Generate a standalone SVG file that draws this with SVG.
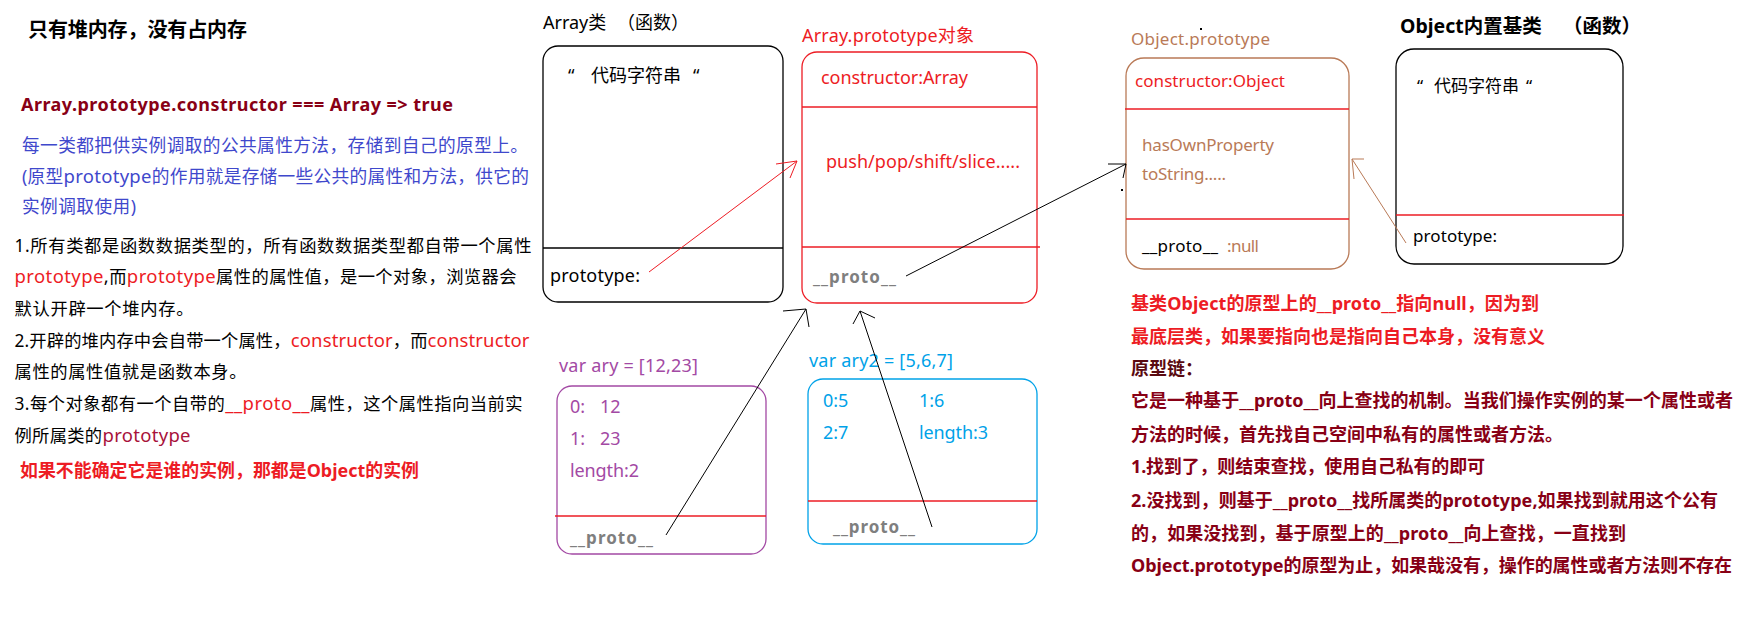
<svg xmlns="http://www.w3.org/2000/svg" width="1753" height="620" viewBox="0 0 1753 620">
<style>
text { font-family: "Noto Sans", "Noto Sans CJK SC", sans-serif; }
.s17 { font-size: 17px; }
.s18 { font-size: 18px; }
.sB { font-size: 17.3px; }
.sU { font-size: 17.7px; }
.sR { font-size: 18px; }
.L { font-size: 18.5px; }
.b { font-weight: bold; }
.box { fill: none; stroke-width: 1.3; }
.div { stroke: #ED1C24; stroke-width: 1.3; }
.red { fill: #ED1C24; }
.dred { fill: #880015; }
.blu { fill: #3F48CC; }
.brn { fill: #B97A57; }
.pur { fill: #A349A4; }
.cya { fill: #00A2E8; }
.gry { fill: #7F7F7F; font-weight: bold; }
.ln { fill: none; stroke-width: 1; }
</style>
<rect width="1753" height="620" fill="#fff"/>

<g id="notes-left">
  <text x="28" y="37" class="b" style="font-size:20px" textLength="219">只有堆内存，没有占内存</text>
  <text x="21" y="111" class="b dred s18" textLength="432">Array.prototype.constructor === Array =&gt; true</text>
  <text x="22" y="152" class="blu sU" textLength="506">每一类都把供实例调取的公共属性方法，存储到自己的原型上。</text>
  <text x="22" y="183" class="blu sU" textLength="507">(原型<tspan class="L">prototype</tspan>的作用就是存储一些公共的属性和方法，供它的</text>
  <text x="22" y="213" class="blu sU" textLength="114">实例调取使用)</text>
  <text x="14.5" y="252" class="sB" textLength="517">1.所有类都是函数数据类型的，所有函数数据类型都自带一个属性</text>
  <text x="14.5" y="283" class="sB" textLength="502"><tspan class="red L">prototype</tspan><tspan class="L">,</tspan>而<tspan class="red L">prototype</tspan>属性的属性值，是一个对象，浏览器会</text>
  <text x="14.5" y="315" class="sB" textLength="179">默认开辟一个堆内存。</text>
  <text x="14.5" y="347" class="sB" textLength="515">2.开辟的堆内存中会自带一个属性，<tspan class="red L">constructor</tspan>，而<tspan class="red L">constructor</tspan></text>
  <text x="14.5" y="378" class="sB" textLength="232">属性的属性值就是函数本身。</text>
  <text x="14.5" y="410" class="sB" textLength="508">3.每个对象都有一个自带的<tspan class="red L">__proto__</tspan>属性，这个属性指向当前实</text>
  <text x="14.5" y="442" class="sB" textLength="176">例所属类的<tspan class="L" fill="#A8123A">prototype</tspan></text>
  <text x="20" y="477" class="b red" style="font-size:17.9px" textLength="399">如果不能确定它是谁的实例，那都是Object的实例</text>
</g>

<g id="array-class">
  <text x="543" y="29" class="s18">Array类<tspan x="617">（函数）</tspan></text>
  <rect x="543" y="46" width="240" height="256" rx="15" class="box" stroke="#000"/>
  <text x="568" y="82" class="s18">“<tspan x="591">代码字符串</tspan><tspan x="693">“</tspan></text>
  <line x1="543" y1="248" x2="783" y2="248" stroke="#000" stroke-width="1.3"/>
  <text x="550" y="282" class="s18" textLength="90">prototype:</text>
</g>

<g id="array-prototype">
  <text x="802" y="42" class="red s18" textLength="172">Array.prototype对象</text>
  <rect x="802" y="52" width="235" height="251" rx="15" class="box" stroke="#ED1C24"/>
  <text x="821" y="84" class="red s18" textLength="147">constructor:Array</text>
  <line x1="802" y1="107" x2="1037" y2="107" class="div"/>
  <text x="826" y="168" class="red s18" textLength="194">push/pop/shift/slice.....</text>
  <line x1="802" y1="247" x2="1040" y2="247" class="div"/>
  <text x="813" y="283" class="gry s17" textLength="83">__proto__</text>
</g>

<g id="object-prototype">
  <rect x="1200" y="28" width="2" height="2" fill="#000"/>
  <text x="1131" y="45" class="brn s17" textLength="139">Object.prototype</text>
  <rect x="1126" y="58" width="223" height="211" rx="18" class="box" stroke="#B97A57"/>
  <text x="1135" y="87" class="red s17" textLength="150">constructor:Object</text>
  <line x1="1125" y1="109" x2="1349" y2="109" class="div"/>
  <text x="1142" y="151" class="brn s17" textLength="132">hasOwnProperty</text>
  <text x="1142" y="180" class="brn s17" textLength="84">toString.....</text>
  <line x1="1126" y1="219" x2="1349" y2="219" class="div"/>
  <text x="1142" y="252" class="s17" textLength="76">__proto__</text>
  <text x="1227" y="252" class="brn s17" textLength="32">:null</text>
</g>

<g id="object-class">
  <text x="1400" y="33" class="b" style="font-size:19.5px">Object内置基类<tspan x="1563">（函数）</tspan></text>
  <rect x="1396" y="49" width="227" height="215" rx="18" class="box" stroke="#000"/>
  <text x="1417" y="92" class="s17">“<tspan x="1434">代码字符串</tspan><tspan x="1526">“</tspan></text>
  <line x1="1396" y1="215" x2="1624" y2="215" class="div"/>
  <text x="1413" y="242" class="s17" textLength="84">prototype:</text>
</g>

<g id="ary">
  <text x="559" y="372" class="pur s18" textLength="139">var ary = [12,23]</text>
  <rect x="557" y="386" width="209" height="168" rx="15" class="box" stroke="#A349A4"/>
  <text x="570" y="413" class="pur s18">0:<tspan x="600">12</tspan></text>
  <text x="570" y="445" class="pur s18">1:<tspan x="600">23</tspan></text>
  <text x="570" y="477" class="pur s18" textLength="69">length:2</text>
  <line x1="555" y1="516" x2="766" y2="516" class="div"/>
  <text x="570" y="544" class="gry s17" textLength="83">__proto__</text>
</g>

<g id="ary2">
  <text x="809" y="367" class="cya s18" textLength="144">var ary2 = [5,6,7]</text>
  <rect x="808" y="379" width="229" height="165" rx="15" class="box" stroke="#00A2E8"/>
  <text x="823" y="407" class="cya s18">0:5</text>
  <text x="919" y="407" class="cya s18">1:6</text>
  <text x="823" y="439" class="cya s18">2:7</text>
  <text x="919" y="439" class="cya s18" textLength="69">length:3</text>
  <line x1="808" y1="501" x2="1037" y2="501" class="div"/>
  <text x="833" y="533" class="gry s17" textLength="82">__proto__</text>
</g>

<g id="notes-right">
  <text x="1131" y="310" class="b red sR" textLength="408">基类Object的原型上的__proto__指向null，因为到</text>
  <text x="1131" y="343" class="b red sR" textLength="414">最底层类，如果要指向也是指向自己本身，没有意义</text>
  <text x="1131" y="375" class="b sR" fill="#5A0A10">原型链：</text>
  <text x="1131" y="407" class="b dred sR" textLength="602">它是一种基于__proto__向上查找的机制。当我们操作实例的某一个属性或者</text>
  <text x="1131" y="441" class="b dred sR" textLength="432">方法的时候，首先找自己空间中私有的属性或者方法。</text>
  <text x="1131" y="473" class="b dred sR" textLength="354">1.找到了，则结束查找，使用自己私有的即可</text>
  <text x="1131" y="507" class="b dred sR" textLength="587">2.没找到，则基于__proto__找所属类的prototype,如果找到就用这个公有</text>
  <text x="1131" y="540" class="b dred sR" textLength="495">的，如果没找到，基于原型上的__proto__向上查找，一直找到</text>
  <text x="1131" y="572" class="b dred sR" textLength="601">Object.prototype的原型为止，如果哉没有，操作的属性或者方法则不存在</text>
</g>

<g id="connectors">
  <line x1="649" y1="272" x2="797" y2="161" class="ln" stroke="#ED1C24"/>
  <polyline points="776,164 797,161 790,178" class="ln" stroke="#ED1C24"/>
  <line x1="906" y1="276" x2="1126" y2="164" class="ln" stroke="#000"/>
  <polyline points="1108,164 1126,164 1123,178" class="ln" stroke="#000"/>
  <rect x="1121" y="189" width="2" height="2" fill="#000"/>
  <line x1="1406" y1="243" x2="1352" y2="159" class="ln" stroke="#B97A57"/>
  <polyline points="1364,159 1352,159 1354,179" class="ln" stroke="#B97A57"/>
  <line x1="666" y1="535" x2="806" y2="309" class="ln" stroke="#000"/>
  <polyline points="783,311 806,309 809,327" class="ln" stroke="#000"/>
  <line x1="932" y1="527" x2="860" y2="311" class="ln" stroke="#000"/>
  <polyline points="853,324 860,311 875,318" class="ln" stroke="#000"/>
</g>
</svg>
